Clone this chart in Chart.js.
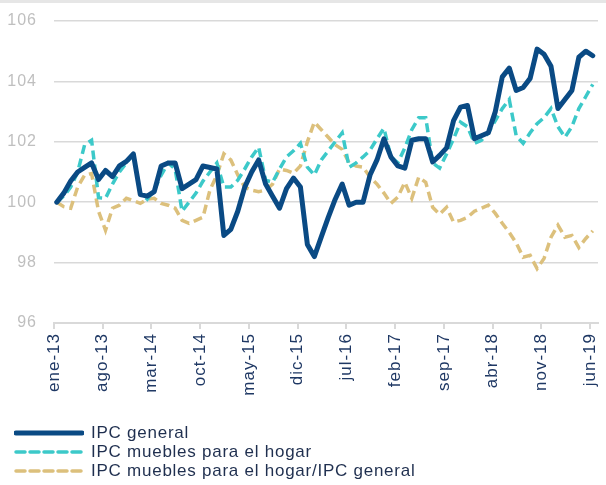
<!DOCTYPE html>
<html>
<head>
<meta charset="utf-8">
<script src="https://cdn.jsdelivr.net/npm/chart.js@4"></script>
<style>
  html, body { margin: 0; padding: 0; background: #fff; }
  #wrap { position: relative; width: 606px; height: 485px; }
  #topline { position: absolute; left: 0; top: 0; width: 606px; height: 3px; background: #e6e6e6; }
  #legend { position: absolute; left: 14px; top: 423px; font-family: "Liberation Sans", Arial, sans-serif; font-size: 17px; letter-spacing: 0.75px; color: #1f2f4f; }
  .row { display: flex; align-items: center; height: 19px; }
  .row svg { margin-right: 7px; }
</style>
</head>
<body>
<div id="wrap">
  <canvas id="chart" width="606" height="485"></canvas>
  <div id="topline"></div>
  <div id="legend"></div>
</div>
<script>
// Tick labels, one every 7 months (ene-13 .. jun-19, 78 months)
const tickLabels = ['ene-13', 'ago-13', 'mar-14', 'oct-14', 'may-15', 'dic-15',
  'jul-16', 'feb-17', 'sep-17', 'abr-18', 'nov-18', 'jun-19'];

// IPC general (index, ene-13 = 100)
const ipcGeneral = [
  100.0, 100.3, 100.7, 101.0, 101.15, 101.3, 100.75, 101.05, 100.85, 101.2,
  101.35, 101.6, 100.25, 100.2, 100.35, 101.2, 101.3, 101.3, 100.45, 100.6,
  100.75, 101.2, 101.15, 101.1, 98.9, 99.1, 99.7, 100.5, 101.0, 101.4,
  100.6, 100.2, 99.8, 100.45, 100.8, 100.5, 98.6, 98.2, 98.85, 99.5,
  100.1, 100.6, 99.9, 100.0, 100.0, 100.9, 101.4, 102.1, 101.5, 101.2,
  101.13, 102.05, 102.1, 102.1, 101.33, 101.55, 101.8, 102.7, 103.15, 103.2,
  102.1, 102.2, 102.3, 103.0, 104.15, 104.44, 103.7, 103.8, 104.1, 105.07,
  104.9, 104.5, 103.1, 103.4, 103.7, 104.8, 105.0, 104.85
];

// IPC muebles para el hogar
const ipcMuebles = [
  100.0, 100.2, 100.5, 101.0, 101.9, 102.05, 100.15, 100.13, 100.6, 101.0,
  101.3, 101.6, 100.3, 100.1, 100.4, 100.9, 101.3, 101.1, 99.7, 100.0,
  100.3, 100.7, 101.0, 101.3, 100.5, 100.5, 100.73, 101.1, 101.5, 101.82,
  100.73, 100.66, 101.1, 101.5, 101.7, 101.95, 101.16, 100.9, 101.4, 101.7,
  102.0, 102.3, 101.16, 101.3, 101.5, 101.72, 102.1, 102.45, 101.5, 101.3,
  101.8, 102.4, 102.8, 102.8, 101.3, 101.13, 101.6, 102.1, 102.65, 102.5,
  101.95, 102.05, 102.3, 102.7, 103.1, 103.4, 102.2, 101.95, 102.3, 102.6,
  102.8, 103.1, 102.5, 102.15, 102.5, 103.1, 103.5, 103.9
];

// IPC muebles para el hogar / IPC general
const ipcRatio = [
  100.0, 99.85, 99.8, 100.5, 100.9, 100.95, 99.7, 99.07, 99.8, 99.9,
  100.13, 100.05, 99.96, 100.1, 100.13, 99.96, 99.9, 99.8, 99.4, 99.3,
  99.4, 99.5, 100.4, 100.9, 101.6, 101.4, 100.9, 100.5, 100.4, 100.35,
  100.4, 100.6, 101.1, 101.05, 100.96, 101.2, 102.0, 102.65, 102.4, 102.15,
  101.9, 101.75, 101.3, 101.2, 101.16, 100.83, 100.6, 100.3, 99.96, 100.17,
  100.66, 100.13, 100.83, 100.66, 99.83, 99.6, 99.83, 99.34, 99.4, 99.5,
  99.7, 99.8, 99.9, 99.63, 99.3, 99.0, 98.65, 98.18, 98.24, 97.8,
  98.14, 98.84, 99.24, 98.84, 98.9, 98.5, 98.8, 99.05
];

const seriesNames = ['IPC general', 'IPC muebles para el hogar', 'IPC muebles para el hogar/IPC general'];
const colors = ['#0a4a84', '#3cc9c9', '#dcc07c'];

// monthly points sit a bit after the month tick (mid-month on a date axis)
const monthOffset = 0.4;

function toPoints(arr) {
  return arr.map((v, i) => ({ x: i + monthOffset, y: v }));
}

const font = "'Liberation Sans', Arial, sans-serif";

// the reference text is set a little wide
const spacing = {
  id: 'spacing',
  beforeLayout(chart) { chart.ctx.letterSpacing = '1px'; },
  beforeDraw(chart) { chart.ctx.letterSpacing = '1px'; }
};

new Chart(document.getElementById('chart'), {
  type: 'line',
  data: {
    datasets: [
      {
        label: seriesNames[0],
        data: toPoints(ipcGeneral),
        borderColor: colors[0],
        borderWidth: 5,
        borderJoinStyle: 'round',
        borderCapStyle: 'round',
        pointRadius: 0,
        tension: 0,
        order: 1
      },
      {
        label: seriesNames[1],
        data: toPoints(ipcMuebles),
        borderColor: colors[1],
        borderWidth: 3.5,
        borderDash: [9, 5],
        pointRadius: 0,
        tension: 0,
        order: 2
      },
      {
        label: seriesNames[2],
        data: toPoints(ipcRatio),
        borderColor: colors[2],
        borderWidth: 3.5,
        borderDash: [9, 5],
        pointRadius: 0,
        tension: 0,
        order: 3
      }
    ]
  },
  plugins: [spacing],
  options: {
    responsive: false,
    animation: false,
    layout: { padding: { top: 21, right: 8, left: 0, bottom: 0 } },
    plugins: {
      legend: { display: false },
      tooltip: { enabled: false }
    },
    scales: {
      x: {
        type: 'linear',
        min: 0,
        max: 78.15,
        afterFit: (s) => { s.height = 162; s.paddingLeft = 0; s.paddingRight = 0; },
        border: { display: true, color: '#d9d9d9', width: 2 },
        grid: { drawOnChartArea: false, drawTicks: true, tickLength: 6, color: '#d9d9d9', lineWidth: 2 },
        ticks: {
          stepSize: 7,
          includeBounds: false,
          autoSkip: false,
          minRotation: 90,
          maxRotation: 90,
          padding: 4,
          color: '#1f3864',
          font: { family: font, size: 17 },
          callback: (v) => (v % 7 === 0 ? tickLabels[v / 7] : '')
        }
      },
      y: {
        min: 96,
        max: 106,
        afterFit: (s) => { s.width = 54; s.paddingTop = 0; s.paddingBottom = 0; },
        border: { display: false },
        grid: { color: '#d9d9d9', lineWidth: 1.5, drawTicks: false },
        ticks: {
          stepSize: 2,
          padding: 17,
          color: '#bfbfbf',
          font: { family: font, size: 16 }
        }
      }
    }
  }
});

// Legend below the chart, one series per row
const legend = document.getElementById('legend');
seriesNames.forEach((name, i) => {
  const row = document.createElement('div');
  row.className = 'row';
  const dash = i === 0 ? '' : 'stroke-dasharray="9 5"';
  const w = i === 0 ? 5 : 3.5;
  row.innerHTML = `<svg width="70" height="10"><line x1="2" y1="5" x2="68" y2="5" stroke="${colors[i]}" stroke-width="${w}" stroke-linecap="round" ${dash}/></svg><span>${name}</span>`;
  legend.appendChild(row);
});
</script>
</body>
</html>
